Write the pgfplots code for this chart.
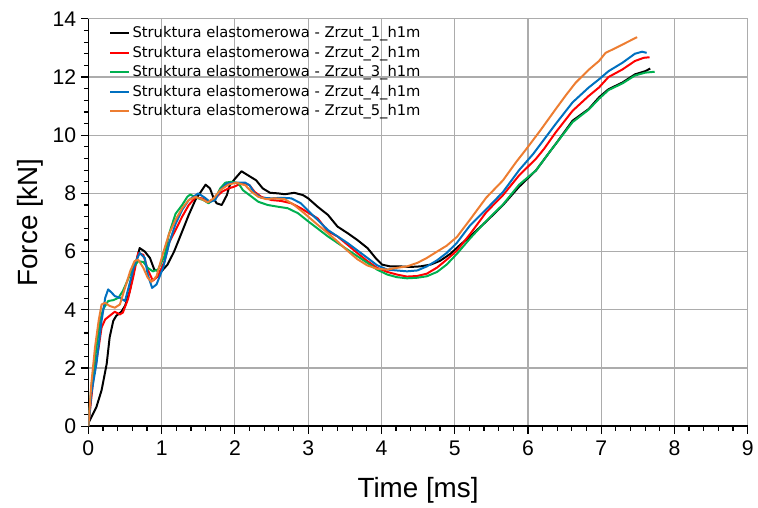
\documentclass[border=0pt]{standalone}
\usepackage{fontspec}
\setmainfont{Liberation Sans}
\newfontfamily\legfont{DejaVu Sans}
\usepackage{pgfplots}
\pgfplotsset{compat=1.18}
\definecolor{c1}{RGB}{0,0,0}
\definecolor{c2}{RGB}{255,0,0}
\definecolor{c3}{RGB}{0,176,80}
\definecolor{c4}{RGB}{0,112,192}
\definecolor{c5}{RGB}{237,125,49}
\begin{document}
\begin{tikzpicture}
\begin{axis}[
  scale only axis, width=17.5cm, height=10.81cm,
  xmin=0, xmax=9, ymin=0, ymax=14,
  xtick distance=1, ytick distance=2,
  minor x tick num=4, minor y tick num=4,
  axis x line*=bottom, axis y line*=left,
  axis line style={line width=1pt},
  tick align=outside, major tick length=0.2cm, minor tick length=0.12cm,
  tick style={black, line width=0.9pt},
  grid=major, major grid style={gray!65, line width=0.9pt},
  /pgf/number format/assume math mode=true,
  ticklabel style={font=\fontsize{16}{18}\selectfont},
  xticklabel style={yshift=-2pt},
  xlabel={Time [ms]}, ylabel={Force [kN]},
  label style={font=\fontsize{21}{24}\selectfont},
  xlabel style={yshift=-9pt},
  legend cell align=left,
  legend style={at={(0.025,0.995)}, anchor=north west, draw=none, fill=none,
    font=\legfont\fontsize{11.1}{13}\selectfont, row sep=0.8pt},
  legend image code/.code={\draw[#1, line width=1.5pt] (0cm,0cm) -- (0.5cm,0cm);},
  every axis plot/.append style={line width=1.5pt, line join=round},
]
\coordinate (sw) at (rel axis cs:0,0);
\coordinate (ne) at (rel axis cs:1,1);
\addplot[c1] coordinates {
(0,0.1)(0.11,0.66)(0.18,1.23)(0.25,2.14)(0.29,3.05)(0.34,3.62)(0.38,3.79)(0.45,3.93)
(0.5,4.13)(0.565,4.64)(0.63,5.44)(0.70,6.12)(0.77,6.0)(0.84,5.78)(0.90,5.38)(0.99,5.3)
(1.08,5.55)(1.17,6.0)(1.28,6.69)(1.37,7.26)(1.46,7.77)(1.55,8.11)(1.6,8.3)(1.66,8.17)
(1.71,7.83)(1.75,7.66)(1.82,7.6)(1.89,7.94)(1.93,8.28)(2.0,8.5)(2.09,8.76)(2.18,8.62)
(2.29,8.45)(2.38,8.17)(2.48,8.02)(2.59,8.0)(2.68,7.97)(2.81,8.02)(2.93,7.94)(3.0,7.83)
(3.13,7.54)(3.27,7.26)(3.40,6.86)(3.54,6.63)(3.67,6.40)(3.81,6.12)(3.92,5.78)(4.01,5.55)
(4.12,5.49)(4.26,5.49)(4.39,5.47)(4.53,5.49)(4.67,5.55)(4.80,5.68)(4.94,5.92)(5.07,6.22)
(5.21,6.52)(5.43,7.03)(5.66,7.6)(5.88,8.23)(6.11,8.79)(6.31,9.47)(6.38,9.70)(6.61,10.5)
(6.83,10.9)(6.97,11.3)(7.1,11.58)(7.29,11.81)(7.46,12.09)(7.6,12.2)(7.67,12.29)};
\addlegendentry{Struktura elastomerowa - Zrzut\_1\_h1m}
\addplot[c2] coordinates {
(0,0)(0.07,1.68)(0.14,2.7)(0.18,3.39)(0.23,3.67)(0.29,3.79)(0.36,3.93)(0.43,3.84)
(0.47,3.9)(0.54,4.36)(0.61,5.1)(0.68,5.95)(0.75,5.89)(0.81,5.38)(0.88,5.0)(0.95,5.15)
(1.04,5.67)(1.10,6.3)(1.19,6.74)(1.28,7.2)(1.37,7.6)(1.46,7.85)(1.55,7.83)(1.64,7.71)
(1.73,7.83)(1.82,8.05)(1.91,8.17)(1.98,8.22)(2.05,8.3)(2.14,8.34)(2.2,8.28)(2.27,8.05)
(2.36,7.88)(2.5,7.77)(2.63,7.74)(2.77,7.66)(2.9,7.49)(2.99,7.35)(3.13,7.14)(3.27,6.69)
(3.4,6.52)(3.54,6.23)(3.67,5.95)(3.81,5.67)(3.94,5.44)(4.08,5.3)(4.21,5.21)(4.35,5.14)
(4.49,5.16)(4.62,5.24)(4.76,5.45)(4.89,5.72)(5.03,6.03)(5.21,6.6)(5.43,7.35)(5.66,7.94)
(5.88,8.62)(6.11,9.19)(6.22,9.53)(6.38,10.1)(6.61,10.84)(6.83,11.35)(6.97,11.64)
(7.1,12.0)(7.29,12.26)(7.46,12.55)(7.58,12.66)(7.66,12.68)};
\addlegendentry{Struktura elastomerowa - Zrzut\_2\_h1m}
\addplot[c3] coordinates {
(0,0)(0.04,1.34)(0.11,2.7)(0.16,3.62)(0.2,4.01)(0.27,4.3)(0.34,4.33)(0.41,4.41)
(0.47,4.64)(0.54,5.04)(0.61,5.44)(0.68,5.67)(0.75,5.64)(0.81,5.44)(0.88,5.32)(0.95,5.38)
(1.04,5.85)(1.1,6.6)(1.19,7.3)(1.28,7.6)(1.35,7.88)(1.39,7.96)(1.48,7.85)(1.57,7.77)
(1.64,7.66)(1.73,7.83)(1.8,8.17)(1.87,8.37)(1.96,8.4)(2.05,8.34)(2.11,8.11)(2.2,7.94)
(2.32,7.71)(2.45,7.6)(2.59,7.54)(2.72,7.49)(2.86,7.32)(2.99,7.06)(3.27,6.52)(3.54,6.06)
(3.81,5.61)(3.94,5.38)(4.08,5.21)(4.21,5.12)(4.35,5.08)(4.49,5.1)(4.62,5.15)(4.76,5.3)
(4.89,5.55)(5.03,5.92)(5.21,6.45)(5.43,7.05)(5.66,7.62)(5.88,8.3)(6.11,8.79)(6.31,9.47)
(6.38,9.70)(6.61,10.45)(6.83,10.88)(6.97,11.25)(7.1,11.55)(7.29,11.78)(7.46,12.05)
(7.6,12.15)(7.73,12.18)};
\addlegendentry{Struktura elastomerowa - Zrzut\_3\_h1m}
\addplot[c4] coordinates {
(0,0)(0.04,1.11)(0.11,2.14)(0.18,3.62)(0.23,4.41)(0.27,4.7)(0.32,4.58)(0.36,4.47)
(0.43,4.41)(0.5,4.3)(0.56,4.87)(0.63,5.55)(0.70,5.95)(0.77,5.78)(0.81,5.21)(0.87,4.75)
(0.93,4.87)(1.02,5.44)(1.11,6.35)(1.19,6.95)(1.28,7.43)(1.37,7.77)(1.5,8.0)(1.59,7.85)
(1.66,7.71)(1.73,7.77)(1.8,8.11)(1.89,8.34)(2.0,8.37)(2.14,8.37)(2.2,8.28)(2.27,8.0)
(2.36,7.85)(2.5,7.83)(2.63,7.85)(2.77,7.83)(2.9,7.66)(2.99,7.43)(3.27,6.74)(3.54,6.29)
(3.81,5.78)(3.94,5.53)(4.08,5.38)(4.21,5.35)(4.35,5.32)(4.49,5.35)(4.62,5.49)(4.76,5.7)
(4.89,5.95)(5.03,6.3)(5.21,6.9)(5.43,7.45)(5.66,8.05)(5.88,8.8)(6.07,9.35)(6.38,10.39)
(6.61,11.13)(6.83,11.64)(6.97,11.92)(7.1,12.2)(7.29,12.49)(7.46,12.8)(7.56,12.87)(7.62,12.83)};
\addlegendentry{Struktura elastomerowa - Zrzut\_4\_h1m}
\addplot[c5] coordinates {
(0,0)(0.04,1.45)(0.09,2.7)(0.14,3.62)(0.18,4.18)(0.23,4.24)(0.29,4.13)(0.36,4.07)
(0.43,4.18)(0.5,4.75)(0.57,5.32)(0.63,5.67)(0.68,5.72)(0.75,5.44)(0.81,5.1)(0.86,4.96)
(0.93,5.15)(1.02,5.95)(1.1,6.6)(1.19,7.09)(1.28,7.49)(1.37,7.77)(1.46,7.88)(1.55,7.8)
(1.63,7.69)(1.71,7.83)(1.8,8.11)(1.91,8.3)(2.02,8.37)(2.14,8.28)(2.23,8.05)(2.32,7.88)
(2.43,7.8)(2.54,7.83)(2.68,7.8)(2.81,7.6)(2.95,7.31)(3.13,6.92)(3.27,6.63)(3.4,6.35)
(3.54,6.02)(3.67,5.74)(3.81,5.52)(3.94,5.41)(4.08,5.38)(4.21,5.44)(4.35,5.49)(4.49,5.61)
(4.62,5.78)(4.76,6.0)(4.89,6.2)(5.03,6.5)(5.21,7.1)(5.43,7.85)(5.66,8.45)(5.84,9.08)
(5.98,9.53)(6.18,10.2)(6.38,10.9)(6.52,11.38)(6.65,11.8)(6.83,12.25)(6.97,12.55)(7.06,12.83)
(7.2,13.0)(7.38,13.23)(7.49,13.37)};
\addlegendentry{Struktura elastomerowa - Zrzut\_5\_h1m}
\end{axis}
\path ([shift={(-2.346cm,-2.083cm)}]sw) rectangle ([shift={(0.132cm,0.5cm)}]ne);
\end{tikzpicture}
\end{document}
